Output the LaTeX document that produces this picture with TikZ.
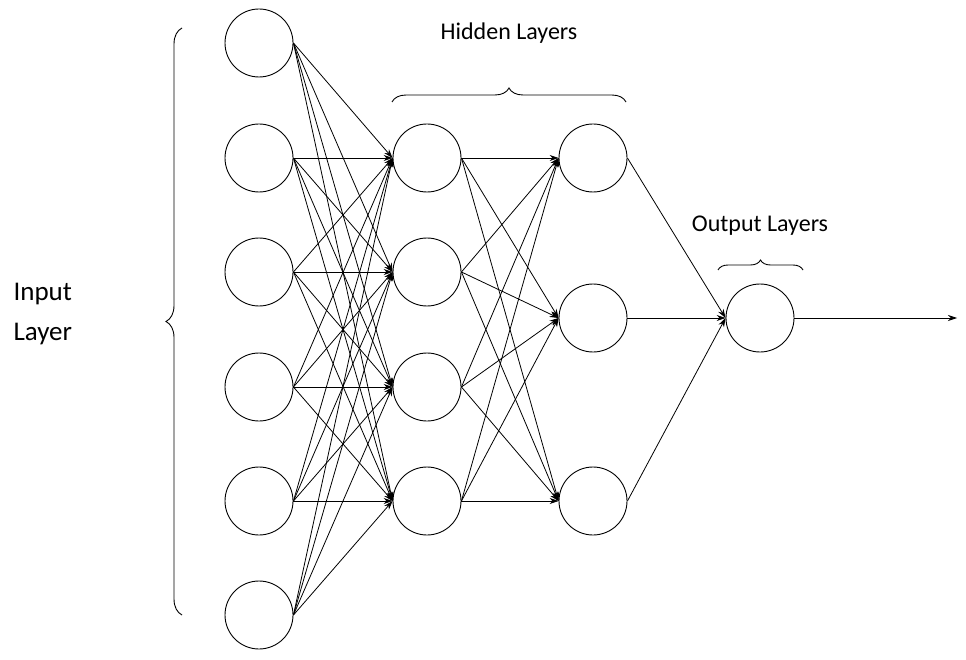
\documentclass[tikz,border=0pt]{standalone}
\usepackage{fontspec}
\setmainfont{Carlito}
\usetikzlibrary{arrows.meta,decorations.pathreplacing}
\begin{document}
\begin{tikzpicture}[x=1pt,y=-1pt,
  neuron/.style={circle,draw,line width=0.9pt,minimum size=68pt,inner sep=0pt},
  conn/.style={-{Stealth[length=9pt,width=6pt]},line width=0.8pt},
  brc/.style={decorate,decoration={brace,amplitude=#1},line width=0.9pt},
  lbl/.style={font=\fontsize{24}{26}\selectfont}]
\useasboundingbox (0,0) rectangle (966,660);
\foreach \i/\y in {1/43,2/158,3/272,4/387,5/501,6/615} \node[neuron] (i\i) at (259,\y) {};
\foreach \i/\y in {1/158,2/272,3/387,4/501} \node[neuron] (a\i) at (427,\y) {};
\foreach \i/\y in {1/158,2/318,3/501} \node[neuron] (b\i) at (593,\y) {};
\node[neuron] (o) at (760,318) {};
\coordinate (out) at (957,318);
\foreach \i in {1,...,6} \foreach \j in {1,...,4} \draw[conn] (i\i.east) -- (a\j.west);
\foreach \i in {1,...,4} \foreach \j in {1,...,3} \draw[conn] (a\i.east) -- (b\j.west);
\foreach \j in {1,...,3} \draw[conn] (b\j.east) -- (o.west);
\draw[conn] (o.east) -- (out);
\draw[brc=16pt] (182,615) -- (182,28);
\draw[brc=14pt] (392,102) -- (626,102);
\draw[brc=10pt] (718,270) -- (803,270);
\node[lbl,align=left,anchor=west,font=\fontsize{27}{40}\selectfont] (il) at (10,314) {Input\\Layer};
\node[lbl] (hl) at (509,33) {Hidden Layers};
\node[lbl] (ol) at (760,226) {Output Layers};
\end{tikzpicture}
\end{document}
